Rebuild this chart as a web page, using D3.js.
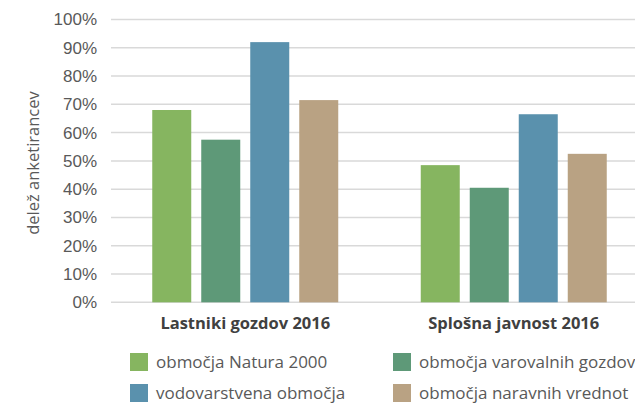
<!DOCTYPE html>
<head>
<meta charset="utf-8">
<style>
body { margin: 0; background: #fff; }
svg { font-family: "Open Sans", sans-serif; }
.axis--y path, .axis--y line { display: none; }
.axis--y text { fill: #595959; font-size: 17px; }
.grid line { stroke: #d9d9d9; stroke-width: 1.5px; }
.cat { fill: #404040; font-size: 16.5px; font-weight: bold; text-anchor: middle; }
.legend text { fill: #595959; font-size: 17px; }
</style>
<script src="https://cdn.jsdelivr.net/npm/d3@7"></script>
</head>
<body>
<svg width="635" height="404"></svg>
<script>

var groups = ["Lastniki gozdov 2016", "Splošna javnost 2016"];
var seriesNames = ["območja Natura 2000", "območja varovalnih gozdov", "vodovarstvena območja", "območja naravnih vrednot"];
var natura = [68, 48.5];
var varovalni = [57.5, 40.5];
var vodovarstvena = [92, 66.5];
var naravne = [71.5, 52.5];
var yTicks = [0, 10, 20, 30, 40, 50, 60, 70, 80, 90, 100];
var colors = ["#86b560", "#5e9978", "#5a91ad", "#b9a283"];

var seriesValues = [natura, varovalni, vodovarstvena, naravne];

var svg = d3.select("svg"),
    margin = {top: 19.5, left: 111, plotWidth: 537, bottom: 302.3};

var x0 = d3.scaleBand()
    .domain(groups)
    .range([margin.left, margin.left + margin.plotWidth]);

var x1 = d3.scaleBand()
    .domain(d3.range(seriesNames.length))
    .range([0, 186])
    .paddingInner(10 / 49)
    .paddingOuter(0);

var y = d3.scaleLinear()
    .domain([0, 100])
    .range([margin.bottom, margin.top]);

// gridlines
svg.append("g")
    .attr("class", "grid")
  .selectAll("line")
  .data(yTicks)
  .enter().append("line")
    .attr("x1", margin.left)
    .attr("x2", margin.left + margin.plotWidth)
    .attr("y1", function(d) { return y(d); })
    .attr("y2", function(d) { return y(d); });

svg.append("g")
    .attr("class", "axis axis--y")
    .attr("transform", "translate(" + (margin.left - 14) + ",0)")
    .call(d3.axisLeft(y).tickValues(yTicks).tickSize(0).tickPadding(0).tickFormat(function(d) { return d + "%"; }));

// bars
var groupG = svg.append("g")
  .selectAll("g")
  .data(groups)
  .enter().append("g")
    .attr("transform", function(g) { return "translate(" + (x0(g) + x0.bandwidth() / 2 - 93) + ",0)"; });

groupG.selectAll("rect")
  .data(function(g, gi) { return seriesValues.map(function(vals, si) { return {s: si, v: vals[gi]}; }); })
  .enter().append("rect")
    .attr("x", function(d) { return x1(d.s); })
    .attr("width", x1.bandwidth())
    .attr("y", function(d) { return y(d.v); })
    .attr("height", function(d) { return y(0) - y(d.v); })
    .attr("fill", function(d) { return colors[d.s]; });

// category labels
svg.selectAll(".cat")
  .data(groups)
  .enter().append("text")
    .attr("class", "cat")
    .attr("x", function(g) { return x0(g) + x0.bandwidth() / 2; })
    .attr("y", 329)
    .text(function(g) { return g; });

// y title
svg.append("text")
    .attr("transform", "translate(39,163) rotate(-90)")
    .attr("text-anchor", "middle")
    .attr("fill", "#595959")
    .style("font-size", "16.5px")
    .text("delež anketirancev");

// legend
var legendPos = [[130, 353], [393, 353], [130, 384], [393, 384]];
var legend = svg.append("g")
    .attr("class", "legend")
  .selectAll("g")
  .data(d3.range(seriesNames.length))
  .enter().append("g")
    .attr("transform", function(d, i) { return "translate(" + legendPos[i][0] + "," + legendPos[i][1] + ")"; });

legend.append("rect")
    .attr("width", 18)
    .attr("height", 18)
    .attr("fill", function(d) { return colors[d]; });

legend.append("text")
    .attr("x", 26)
    .attr("y", 15)
    .text(function(d) { return seriesNames[d]; });

</script>
</body>
</html>
